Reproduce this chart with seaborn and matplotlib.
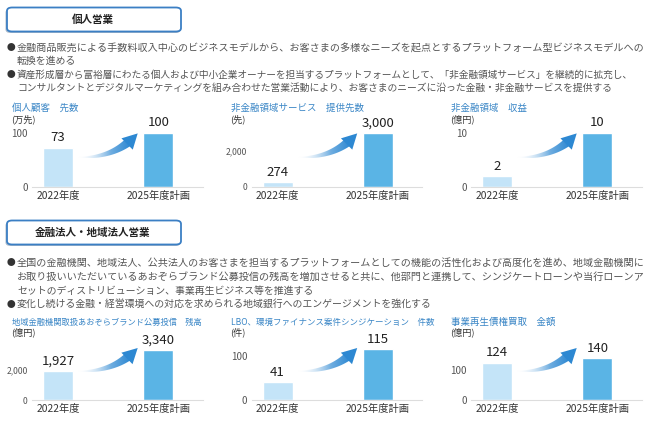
import numpy as np
import matplotlib
matplotlib.use("Agg")
import matplotlib.pyplot as plt
import seaborn as sns
from matplotlib.patches import FancyBboxPatch, Polygon
from matplotlib.ticker import FuncFormatter, FixedLocator

sns.set_style("white")
plt.rcParams['font.family'] = ['Noto Sans CJK JP', 'DejaVu Sans']

# data
years = ["2022年度", "2025年度計画"]
titles = ["個人顧客　先数", "非金融領域サービス　提供先数", "非金融領域　収益",
          "地域金融機関取扱あおぞらブランド公募投信　残高",
          "LBO、環境ファイナンス案件シンジケーション　件数", "事業再生債権買取　金額"]
units = ["(万先)", "(先)", "(億円)", "(億円)", "(件)", "(億円)"]
values = [[73, 100], [274, 3000], [2, 10], [1927, 3340], [41, 115], [124, 140]]
yticks = [[0, 100], [0, 2000], [0, 10], [0, 2000], [0, 100], [0, 100]]
ytops = [124, 3722, 12.4, 4333, 148, 217]

sec_titles = ["個人営業", "金融法人・地域法人営業"]
sec_lines = [
    [("●", "金融商品販売による手数料収入中心のビジネスモデルから、お客さまの多様なニーズを起点とするプラットフォーム型ビジネスモデルへの", 640),
     ("", "転換を進める", None),
     ("●", "資産形成層から富裕層にわたる個人および中小企業オーナーを担当するプラットフォームとして、「非金融領域サービス」を継続的に拡充し、", 634),
     ("", "コンサルタントとデジタルマーケティングを組み合わせた営業活動により、お客さまのニーズに沿った金融・非金融サービスを提供する", 613)],
    [("●", "全国の金融機関、地域法人、公共法人のお客さまを担当するプラットフォームとしての機能の活性化および高度化を進め、地域金融機関に", 640),
     ("", "お取り扱いいただいているあおぞらブランド公募投信の残高を増加させると共に、他部門と連携して、シンジケートローンや当行ローンア", 641),
     ("", "セットのディストリビューション、事業再生ビジネス等を推進する", None),
     ("●", "変化し続ける金融・経営環境への対応を求められる地域銀行へのエンゲージメントを強化する", None)],
]

W, H = 648, 421
fig = plt.figure(figsize=(W / 100, H / 100), dpi=100)
fig.patch.set_facecolor("white")
renderer = fig.canvas.get_renderer()

light = "#c4e4f8"
dark = "#5ab4e5"
arrow_col = "#2d88d2"
title_col = "#3a86c6"
text_col = "#555555"
base_fs = 7.15

def fx(px):
    return px / W

def fy(py):
    return 1 - py / H

# section headers + bullet text
sec_box_y = [7, 220]
sec_line_y = [[47.5, 61, 74.5, 88], [263, 277, 290.5, 304]]
for s in range(2):
    y0 = sec_box_y[s]
    shadow = FancyBboxPatch((fx(5.5), fy(y0 + 26)), fx(175), 24 / H,
                            boxstyle="round,pad=0,rounding_size=0.008",
                            transform=fig.transFigure, facecolor="#aebccb",
                            edgecolor="none", zorder=1)
    fig.add_artist(shadow)
    box = FancyBboxPatch((fx(7), fy(y0 + 24.5)), fx(174), 24 / H,
                         boxstyle="round,pad=0,rounding_size=0.008",
                         transform=fig.transFigure, facecolor="white",
                         edgecolor="#3b7fc4", linewidth=1.3, zorder=2)
    fig.add_artist(box)
    fig.text(fx(93), fy(y0 + 12.5), sec_titles[s], ha="center", va="center",
             fontsize=7.6, fontweight="bold", color="#222222", zorder=3)
    for (b, line, xend), ly in zip(sec_lines[s], sec_line_y[s]):
        if b:
            fig.text(fx(6.5), fy(ly), b, ha="left", va="center", fontsize=6.3,
                     color="#333333")
        t = fig.text(fx(17), fy(ly), line, ha="left", va="center", fontsize=base_fs,
                     color=text_col)
        if xend is not None:
            wpx = t.get_window_extent(renderer).width
            t.set_fontsize(base_fs * (xend - 17) / wpx)

# overlay in pixel coordinates for arrows
over = fig.add_axes([0, 0, 1, 1], zorder=10)
over.set_xlim(0, W)
over.set_ylim(0, H)
over.axis("off")
over.patch.set_alpha(0)

grad = np.zeros((1, 256, 4))
rgb = matplotlib.colors.to_rgb(arrow_col)
g = np.linspace(0, 1, 256)
for k in range(3):
    grad[0, :, k] = 1 - (1 - rgb[k]) * g ** 0.8
grad[0, :, 3] = np.clip(g * 1.6, 0, 1)

def draw_arrow(ax):
    t_ax = ax.transAxes
    p0 = np.array(t_ax.transform((0.27, 0.44)))
    p1 = np.array(t_ax.transform((0.45, 0.43)))
    p2 = np.array(t_ax.transform((0.565, 0.66)))
    tip = np.array(t_ax.transform((0.62, 0.80)))
    ts = np.linspace(0, 1, 60)
    pts = np.array([(1 - t) ** 2 * p0 + 2 * (1 - t) * t * p1 + t ** 2 * p2 for t in ts])
    d = np.gradient(pts, axis=0)
    nrm = np.stack([-d[:, 1], d[:, 0]], axis=1)
    nrm /= np.hypot(nrm[:, 0], nrm[:, 1])[:, None]
    w = 0.6 + 4.2 * ts ** 1.1
    upper = pts + nrm * w[:, None]
    lower = pts - nrm * w[:, None] * 0.8
    body = np.vstack([upper, lower[::-1]])
    poly = Polygon(body, closed=True, facecolor="none", edgecolor="none")
    over.add_patch(poly)
    im = over.imshow(grad, extent=[body[:, 0].min(), body[:, 0].max(),
                                   body[:, 1].min(), body[:, 1].max()],
                     aspect="auto", interpolation="bilinear", zorder=4)
    im.set_clip_path(poly)
    dd = tip - p2
    dd = dd / np.hypot(*dd)
    nn = np.array([-dd[1], dd[0]])
    base = tip - dd * 15
    head = np.array([tip, base + nn * 8, base - nn * 8])
    over.add_patch(Polygon(head, closed=True, facecolor=arrow_col, edgecolor="none", zorder=5))

col_x = [58, 277.5, 497]
row_base = [187, 400]
row_top = [120, 335]
title_y = [[108, 119], [322, 332]]
title_fs = [6.8, 6.8, 6.8, 5.95, 6.1, 6.8]
axes = []
for i in range(6):
    r, c = divmod(i, 3)
    left = col_x[c] - 26
    width = 170.5
    ax = fig.add_axes([fx(left), fy(row_base[r]), fx(width), (row_base[r] - row_top[r]) / H])
    sns.barplot(x=years, y=values[i], hue=years, palette=[light, dark],
                width=0.3, legend=False, ax=ax, saturation=1)
    ax.set_xlim(-0.26, 1.44)
    ax.set_ylim(0, ytops[i])
    for sp in ["top", "right", "left"]:
        ax.spines[sp].set_visible(False)
    ax.spines["bottom"].set_color("#dddddd")
    ax.spines["bottom"].set_linewidth(0.8)
    ax.yaxis.set_major_locator(FixedLocator(yticks[i]))
    ax.yaxis.set_major_formatter(FuncFormatter(lambda v, p: f"{v:,.0f}"))
    ax.tick_params(axis="y", length=0, pad=3, labelsize=6.2 if yticks[i][1] >= 1000 else 7,
                   labelcolor="#555555")
    ax.tick_params(axis="x", length=0, pad=3, labelsize=7.4, labelcolor="#333333")
    ax.set_xlabel("")
    ax.set_ylabel("")
    ax.patch.set_alpha(0)
    for cont in ax.containers:
        ax.bar_label(cont, labels=[f"{v:,.0f}" for v in cont.datavalues],
                     padding=2.5, fontsize=9.5, color="#222222")
    fig.text(fx(col_x[c] - 46), fy(title_y[r][0]), titles[i], ha="left", va="center",
             fontsize=title_fs[i], color=title_col)
    fig.text(fx(col_x[c] - 47), fy(title_y[r][1]), units[i], ha="left", va="center",
             fontsize=6.6, color="#333333")
    axes.append(ax)

for ax in axes:
    draw_arrow(ax)

fig.savefig("out.png", dpi=100, facecolor="white")
